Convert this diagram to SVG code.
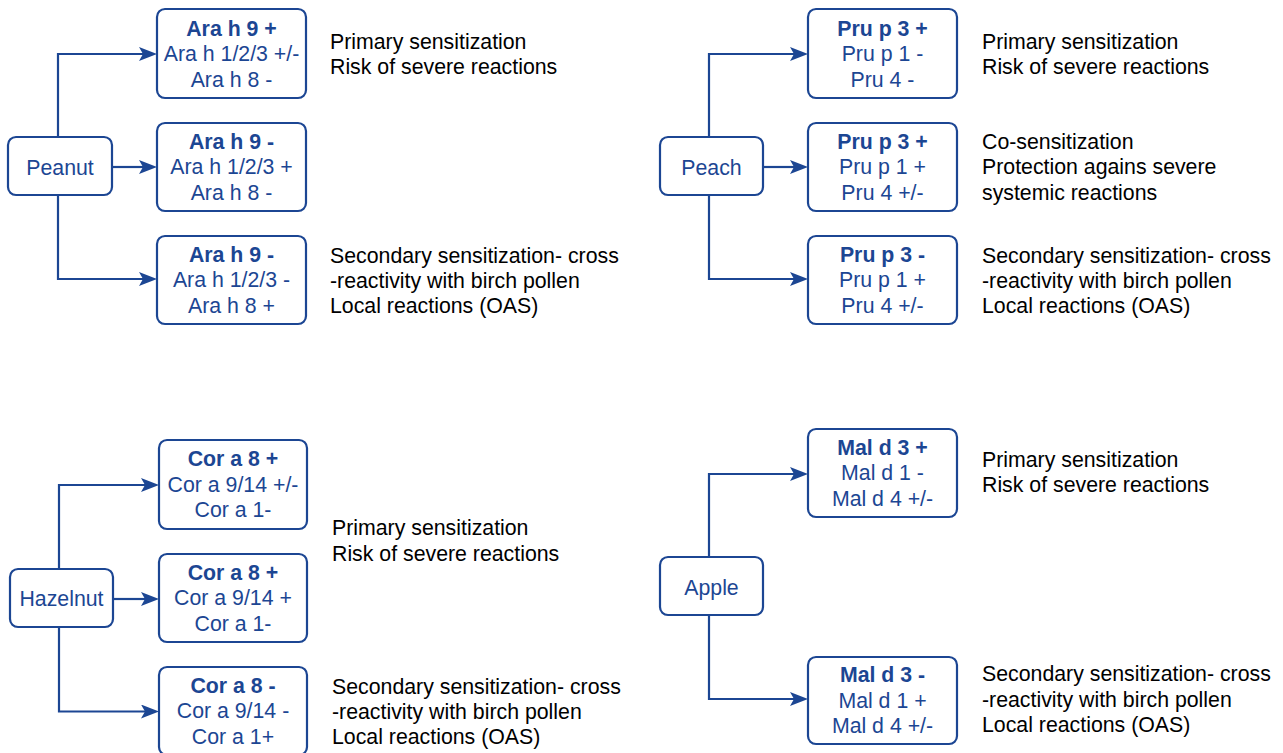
<svg xmlns="http://www.w3.org/2000/svg" width="1283" height="753" viewBox="0 0 1283 753">
<style>
.box{fill:#fff;stroke:#1c4693;stroke-width:2.2}
.bt{font-family:"Liberation Sans",Arial,sans-serif;font-size:21.3px;fill:#1c4693;text-anchor:middle}
.b{font-weight:bold}
.note{font-family:"Liberation Sans",Arial,sans-serif;font-size:21.3px;fill:#000}
.con{fill:none;stroke:#1c4693;stroke-width:2.2;marker-end:url(#arr)}
</style>
<defs>
<marker id="arr" markerUnits="userSpaceOnUse" markerWidth="20" markerHeight="15" refX="4" refY="7" orient="auto" viewBox="0 0 20 15">
<path d="M0,0 L18,7 L0,14 L4,7 Z" fill="#1c4693"/>
</marker>
</defs>
<rect width="1283" height="753" fill="#fff"/>
<g id="connectors">
<path class="con" d="M58,137 V54 H143"/>
<path class="con" d="M112,167 H143"/>
<path class="con" d="M58,195 V279 H143"/>
<path class="con" d="M59,569 V485 H145"/>
<path class="con" d="M113,599 H145"/>
<path class="con" d="M59,627 V711.5 H145"/>
<path class="con" d="M709,137 V54 H794"/>
<path class="con" d="M763,167 H794"/>
<path class="con" d="M709,195 V279 H794"/>
<path class="con" d="M709,557 V474 H794"/>
<path class="con" d="M709,615 V699 H794"/>
</g>
<g id="peanut"><rect class="box" x="8" y="137" width="104" height="58" rx="8"/><text class="bt" x="60" y="175">Peanut</text></g>
<g id="ara1"><rect class="box" x="157" y="9" width="149" height="89" rx="8"/><text class="bt b" x="231.5" y="35.5">Ara h 9 +</text><text class="bt" x="231.5" y="61">Ara h 1/2/3 +/-</text><text class="bt" x="231.5" y="86.5">Ara h 8 -</text></g>
<g id="ara2"><rect class="box" x="157" y="123" width="149" height="88" rx="8"/><text class="bt b" x="231.5" y="148.5">Ara h 9 -</text><text class="bt" x="231.5" y="174">Ara h 1/2/3 +</text><text class="bt" x="231.5" y="199.5">Ara h 8 -</text></g>
<g id="ara3"><rect class="box" x="157" y="236" width="149" height="88" rx="8"/><text class="bt b" x="231.5" y="261.5">Ara h 9 -</text><text class="bt" x="231.5" y="287">Ara h 1/2/3 -</text><text class="bt" x="231.5" y="312.5">Ara h 8 +</text></g>
<g id="peanut-notes">
<text class="note" x="330" y="49">Primary sensitization</text><text class="note" x="330" y="74">Risk of severe reactions</text>
<text class="note" x="330" y="263">Secondary sensitization- cross</text><text class="note" x="330" y="288">-reactivity with birch pollen</text><text class="note" x="330" y="313">Local reactions (OAS)</text>
</g>
<g id="peach"><rect class="box" x="660" y="137" width="103" height="58" rx="8"/><text class="bt" x="711.5" y="175">Peach</text></g>
<g id="pru1"><rect class="box" x="808" y="9" width="149" height="89" rx="8"/><text class="bt b" x="882.5" y="35.5">Pru p 3 +</text><text class="bt" x="882.5" y="61">Pru p 1 -</text><text class="bt" x="882.5" y="86.5">Pru 4 -</text></g>
<g id="pru2"><rect class="box" x="808" y="123" width="149" height="88" rx="8"/><text class="bt b" x="882.5" y="148.5">Pru p 3 +</text><text class="bt" x="882.5" y="174">Pru p 1 +</text><text class="bt" x="882.5" y="199.5">Pru 4 +/-</text></g>
<g id="pru3"><rect class="box" x="808" y="236" width="149" height="88" rx="8"/><text class="bt b" x="882.5" y="261.5">Pru p 3 -</text><text class="bt" x="882.5" y="287">Pru p 1 +</text><text class="bt" x="882.5" y="312.5">Pru 4 +/-</text></g>
<g id="peach-notes">
<text class="note" x="982" y="49">Primary sensitization</text><text class="note" x="982" y="74">Risk of severe reactions</text>
<text class="note" x="982" y="148.5">Co-sensitization</text><text class="note" x="982" y="174">Protection agains severe</text><text class="note" x="982" y="199.5">systemic reactions</text>
<text class="note" x="982" y="263">Secondary sensitization- cross</text><text class="note" x="982" y="288">-reactivity with birch pollen</text><text class="note" x="982" y="313">Local reactions (OAS)</text>
</g>
<g id="hazelnut"><rect class="box" x="10" y="569" width="103" height="58" rx="8"/><text class="bt" x="61.5" y="606">Hazelnut</text></g>
<g id="cor1"><rect class="box" x="159" y="440" width="148" height="89" rx="8"/><text class="bt b" x="233" y="466">Cor a 8 +</text><text class="bt" x="233" y="491.5">Cor a 9/14 +/-</text><text class="bt" x="233" y="517">Cor a 1-</text></g>
<g id="cor2"><rect class="box" x="159" y="554" width="148" height="88" rx="8"/><text class="bt b" x="233" y="579.5">Cor a 8 +</text><text class="bt" x="233" y="605">Cor a 9/14 +</text><text class="bt" x="233" y="630.5">Cor a 1-</text></g>
<g id="cor3"><rect class="box" x="159" y="667" width="148" height="88" rx="8"/><text class="bt b" x="233" y="692.5">Cor a 8 -</text><text class="bt" x="233" y="718">Cor a 9/14 -</text><text class="bt" x="233" y="743.5">Cor a 1+</text></g>
<g id="hazelnut-notes">
<text class="note" x="332" y="535">Primary sensitization</text><text class="note" x="332" y="560.5">Risk of severe reactions</text>
<text class="note" x="332" y="694">Secondary sensitization- cross</text><text class="note" x="332" y="719">-reactivity with birch pollen</text><text class="note" x="332" y="744">Local reactions (OAS)</text>
</g>
<g id="apple"><rect class="box" x="660" y="557" width="103" height="58" rx="8"/><text class="bt" x="711.5" y="595">Apple</text></g>
<g id="mal1"><rect class="box" x="808" y="429" width="149" height="88" rx="8"/><text class="bt b" x="882.5" y="454.5">Mal d 3 +</text><text class="bt" x="882.5" y="480">Mal d 1 -</text><text class="bt" x="882.5" y="505.5">Mal d 4 +/-</text></g>
<g id="mal2"><rect class="box" x="808" y="657" width="149" height="87" rx="8"/><text class="bt b" x="882.5" y="682">Mal d 3 -</text><text class="bt" x="882.5" y="707.5">Mal d 1 +</text><text class="bt" x="882.5" y="733">Mal d 4 +/-</text></g>
<g id="apple-notes">
<text class="note" x="982" y="467">Primary sensitization</text><text class="note" x="982" y="492">Risk of severe reactions</text>
<text class="note" x="982" y="681">Secondary sensitization- cross</text><text class="note" x="982" y="707">-reactivity with birch pollen</text><text class="note" x="982" y="732">Local reactions (OAS)</text>
</g>
</svg>
